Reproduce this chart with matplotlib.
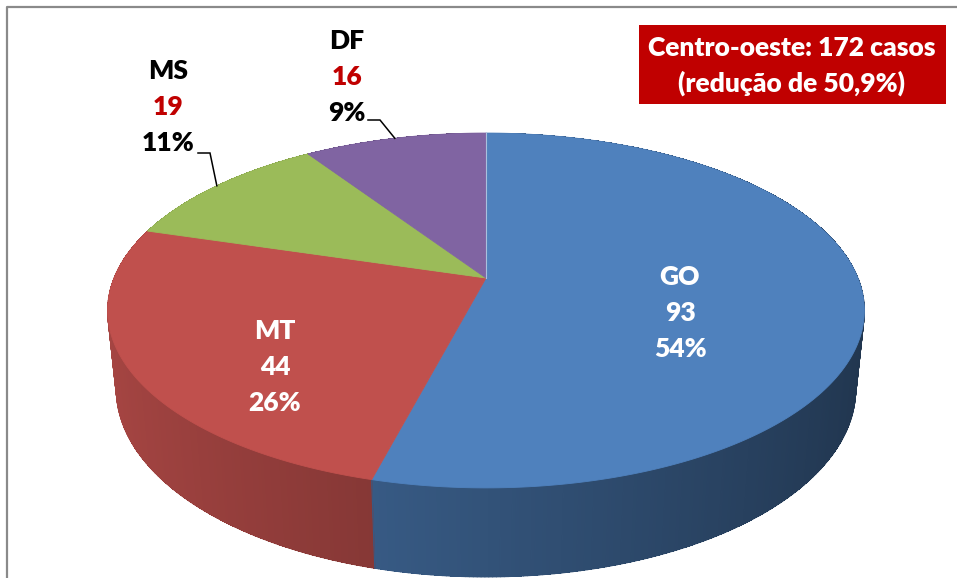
import numpy as np
import matplotlib
matplotlib.use("Agg")
import matplotlib.pyplot as plt
from matplotlib.patches import Polygon, Rectangle
from matplotlib.collections import PolyCollection, LineCollection

# ---------------- data ----------------
states = ["GO", "MT", "MS", "DF"]
cases = [93, 44, 19, 16]
top_colors = ["#4F81BD", "#C0504D", "#9BBB59", "#8064A2"]
title_lines = ["Centro-oeste: {} casos", "(redução de 50,9%)"]

# ---------------- layout ----------------
W, H = 957, 578
CX, CY = 486.0, 278.0      # pie centre on screen
S = 372.0                   # radius scale
ELEV = np.arcsin(0.461)     # viewing elevation
DIST = 4.85                 # camera distance (in radii)
DEPTH = 0.241               # pie thickness (in radii)
FONT = ["Lato", "DejaVu Sans"]
FS = 19
WEIGHT = "heavy"
RED = "#C00000"

label_pos = {"GO": (680, 313), "MT": (275, 367), "MS": (168, 107), "DF": (347, 77)}
label_color = {"GO": "white", "MT": "white", "MS": "black", "DF": "black"}
line_gap = 36
leader_elbow = {"MS": [(198, 153), (210, 153)], "DF": [(368, 120), (380, 120)]}

sE, cE = np.sin(ELEV), np.cos(ELEV)


def proj(u, v, z):
    up = v * sE + z * cE
    dep = v * cE - z * sE
    f = DIST / (DIST + dep)
    return CX + S * u * f, CY - S * up * f


def shade(hexcol, theta):
    rgb = np.array(matplotlib.colors.to_rgb(hexcol))
    f = 0.64 - 0.23 * np.cos(theta)
    return tuple(np.clip(rgb * f, 0, 1))


fig = plt.figure(figsize=(W / 100, H / 100), dpi=100)
ax = fig.add_axes([0, 0, 1, 1])
ax.set_xlim(0, W)
ax.set_ylim(H, 0)
ax.axis("off")

total = sum(cases)
fr = np.array(cases) / total
cum = np.concatenate([[0], np.cumsum(fr)])
# math angles (radians): start at 12 o'clock, clockwise
starts = np.deg2rad(90 - 360 * cum[:-1])
ends = np.deg2rad(90 - 360 * cum[1:])

# ---------------- side walls ----------------
quads, cols, depths, segs = [], [], [], []
for i in range(len(cases)):
    n = max(int(abs(np.rad2deg(ends[i] - starts[i])) * 2), 2)
    th = np.linspace(starts[i], ends[i], n + 1)
    for a, b in zip(th[:-1], th[1:]):
        p1 = proj(np.cos(a), np.sin(a), 0)
        p2 = proj(np.cos(b), np.sin(b), 0)
        p3 = proj(np.cos(b), np.sin(b), -DEPTH)
        p4 = proj(np.cos(a), np.sin(a), -DEPTH)
        quads.append([p1, p2, p3, p4])
        m = 0.5 * (a + b)
        cols.append(shade(top_colors[i], m))
        depths.append(np.sin(m))
        segs.append([p1, p4, p3, p2])
order = np.argsort(depths)[::-1]
pc = PolyCollection([quads[k] for k in order], facecolors=[cols[k] for k in order],
                    edgecolors="none", linewidths=0, antialiased=False, zorder=1.0)
ax.add_collection(pc)
# smooth silhouette along the bottom rim / sides (under the top face)
front = [k for k in order if depths[k] < 0.25]
ax.add_collection(LineCollection([segs[k] for k in front], colors=[cols[k] for k in front],
                                 linewidths=0.8, zorder=1.1))

# ---------------- top face ----------------
for i in range(len(cases)):
    th = np.linspace(starts[i], ends[i], 300)
    pts = [proj(0, 0, 0)] + [proj(np.cos(t), np.sin(t), 0) for t in th]
    ax.add_patch(Polygon(pts, closed=True, facecolor=top_colors[i],
                         edgecolor=top_colors[i], linewidth=0.6, zorder=2))
# faint highlight on the 12 o'clock seam
p_top = proj(np.cos(starts[0]), np.sin(starts[0]), 0)
ax.plot([CX, p_top[0]], [CY, p_top[1]], color="#a9c0de", lw=0.8, zorder=3)

# ---------------- labels ----------------
for i, st in enumerate(states):
    x, y = label_pos[st]
    pct = "{}%".format(int(round(100 * cases[i] / total)))
    c = label_color[st]
    ax.text(x, y - line_gap, st, ha="center", va="center", fontsize=FS,
            fontweight=WEIGHT, color=c, family=FONT, zorder=5)
    ax.text(x, y, str(cases[i]), ha="center", va="center", fontsize=FS,
            fontweight=WEIGHT, color=(c if c == "white" else RED), family=FONT, zorder=5)
    ax.text(x, y + line_gap, pct, ha="center", va="center", fontsize=FS,
            fontweight=WEIGHT, color=c, family=FONT, zorder=5)
    if st in leader_elbow:
        mid = 0.5 * (starts[i] + ends[i])
        rim = proj(np.cos(mid), np.sin(mid), 0)
        pts = leader_elbow[st] + [rim]
        ax.plot([p[0] for p in pts], [p[1] for p in pts], color="black", lw=1.1,
                solid_joinstyle="miter", zorder=4)

# ---------------- title box ----------------
ax.add_patch(Rectangle((639, 25), 307, 79, facecolor=RED, edgecolor="none", zorder=4))
ax.text(792, 48, title_lines[0].format(total), ha="center", va="center",
        fontsize=FS, fontweight=WEIGHT, color="white", family=FONT, zorder=5)
ax.text(792, 83, title_lines[1], ha="center", va="center",
        fontsize=FS, fontweight=WEIGHT, color="white", family=FONT, zorder=5)

# ---------------- frame ----------------
ax.plot([7, 7, W + 5], [H + 5, 7, 7], color="#8a8a8a", lw=1.6, clip_on=False, zorder=6)

fig.savefig("out.png", dpi=100)
